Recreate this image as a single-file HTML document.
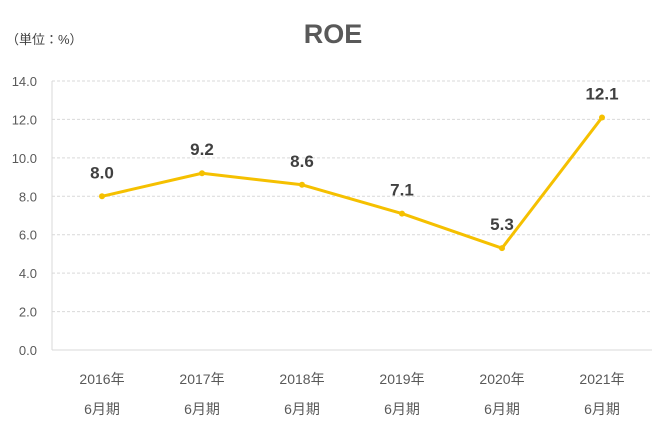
<!DOCTYPE html>
<html><head><meta charset="utf-8"><style>
html,body{margin:0;padding:0;background:#fff;}
svg{display:block;font-family:"Liberation Sans","Noto Sans CJK JP",sans-serif;}
</style></head><body>
<svg id="chart" width="668" height="432" viewBox="0 0 668 432" xmlns="http://www.w3.org/2000/svg">
<text x="333" y="43" text-anchor="middle" font-size="27" font-weight="bold" fill="#595959">ROE</text>
<text x="6" y="44" font-size="13" fill="#404040">（単位：%）</text>
<g id="grid"></g><g id="axes"></g><g id="series"></g>
</svg>
<script>
const categoriesYear = ["2016年","2017年","2018年","2019年","2020年","2021年"];
const categoriesTerm = ["6月期","6月期","6月期","6月期","6月期","6月期"];
const roeValues = [8.0, 9.2, 8.6, 7.1, 5.3, 12.1];
const valueLabels = ["8.0","9.2","8.6","7.1","5.3","12.1"];
const yTicks = [0,2,4,6,8,10,12,14];
const yTickLabels = ["0.0","2.0","4.0","6.0","8.0","10.0","12.0","14.0"];

const NS="http://www.w3.org/2000/svg";
const pLeft=52,pRight=652,pTop=81,pBottom=350,yMax=14;
const yS=v=>pBottom-(v/yMax)*(pBottom-pTop);
const band=(pRight-pLeft)/categoriesYear.length;
const xS=i=>pLeft+band*(i+0.5);
function mk(tag,attrs,parent,txt){const e=document.createElementNS(NS,tag);for(const k in attrs)e.setAttribute(k,attrs[k]);if(txt!==undefined)e.textContent=txt;parent.appendChild(e);return e;}
const grid=document.getElementById('grid'),axes=document.getElementById('axes'),series=document.getElementById('series');
yTicks.forEach((t,i)=>{
  if(t>0){const l=mk('line',{x1:pLeft,x2:pRight,y1:yS(t),y2:yS(t),stroke:'#d9d9d9','stroke-dasharray':'3,2','stroke-width':1},grid);
  
  }
  const tx=mk('text',{x:37,y:yS(t)+5,'text-anchor':'end','font-size':13,fill:'#595959'},axes,yTickLabels[i]);
  
  
});
const ya=mk('line',{x1:pLeft,x2:pLeft,y1:pTop,y2:pBottom,stroke:'#d9d9d9','stroke-width':1},axes);


const xa=mk('line',{x1:pLeft,x2:pRight,y1:pBottom,y2:pBottom,stroke:'#d9d9d9','stroke-width':1},axes);


categoriesYear.forEach((c,i)=>{
  const a=mk('text',{x:xS(i),y:384,'text-anchor':'middle','font-size':14,fill:'#595959'},axes,c);
  
  
  const b=mk('text',{x:xS(i),y:414,'text-anchor':'middle','font-size':14,fill:'#595959'},axes,categoriesTerm[i]);
  
  
});
const pts=roeValues.map((v,i)=>xS(i)+','+yS(v)).join(' ');
const pl=mk('polyline',{points:pts,fill:'none',stroke:'#f5c000','stroke-width':3,'stroke-linejoin':'round'},series);


roeValues.forEach((v,i)=>{
  const c=mk('circle',{cx:xS(i),cy:yS(v),r:3,fill:'#f5c000'},series);
  
  
  const t=mk('text',{x:xS(i),y:yS(v)-18,'text-anchor':'middle','font-size':17,'font-weight':'bold',fill:'#404040'},series,valueLabels[i]);
  
  
});
</script>
</body></html>
